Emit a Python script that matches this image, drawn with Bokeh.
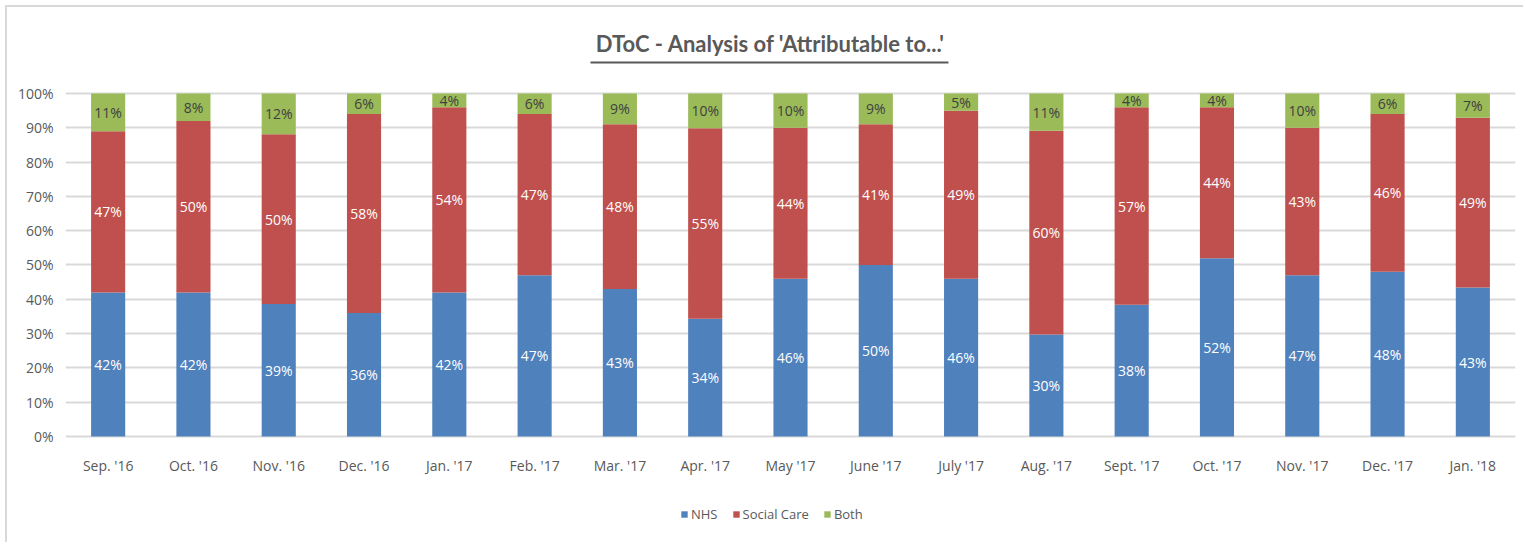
import numpy as np
from bokeh.plotting import figure
from bokeh.models import (ColumnDataSource, Range1d, FixedTicker, NumeralTickFormatter,
                          Label, Arrow, Legend, LegendItem)
from bokeh.core.properties import value
from bokeh.embed import file_html
from bokeh.resources import INLINE

months = ["Sep. '16", "Oct. '16", "Nov. '16", "Dec. '16", "Jan. '17", "Feb. '17",
          "Mar. '17", "Apr. '17", "May '17", "June '17", "July '17", "Aug. '17",
          "Sept. '17", "Oct. '17", "Nov. '17", "Dec. '17", "Jan. '18"]
nhs = [42, 42, 39, 36, 42, 47, 43, 34, 46, 50, 46, 30, 38, 52, 47, 48, 43]
social_care = [47, 50, 50, 58, 54, 47, 48, 55, 44, 41, 49, 60, 57, 44, 43, 46, 49]
both = [11, 8, 12, 6, 4, 6, 9, 10, 10, 9, 5, 11, 4, 4, 10, 6, 7]
series_names = ["NHS", "Social Care", "Both"]
colors = ["#4F81BD", "#C0504D", "#9BBB59"]
title_text = "DToC - Analysis of 'Attributable to...'"

FONT = "Open Sans"
TFONT = "Lato"
GREY = "#595959"

a = np.array(nhs, float)
b = np.array(social_care, float)
c = np.array(both, float)
tot = a + b + c
xs = np.arange(len(months)) + 0.5
src = ColumnDataSource(dict(x=xs, nhs=a / tot, sc=b / tot, both=c / tot))

# frame covers the whole chart area; only 0..100% is gridded / ticked
Y_LO, Y_HI = -0.2974, 1.242

W, H = 1518, 537
p = figure(width=W, height=H, x_range=Range1d(0, len(months)), y_range=Range1d(Y_LO, Y_HI),
           output_backend="svg", toolbar_location=None,
           min_border_left=58, min_border_right=10, min_border_top=3, min_border_bottom=6,
           styles={"margin-left": "5px", "margin-top": "5px",
                   "border-top": "2px solid #d9d9d9", "border-left": "2px solid #d9d9d9"})
p.outline_line_color = None
p.xgrid.visible = False
yt = FixedTicker(ticks=[i / 10 for i in range(11)])
p.yaxis.ticker = yt
p.ygrid.ticker = yt
p.ygrid.grid_line_color = "#d9d9d9"
p.ygrid.grid_line_width = 2
p.yaxis.formatter = NumeralTickFormatter(format="0%")
p.xaxis.ticker = FixedTicker(ticks=list(xs))
p.xaxis.major_label_overrides = {float(x): m for x, m in zip(xs, months)}
for ax in (p.xaxis[0], p.yaxis[0]):
    ax.axis_line_color = None
    ax.major_tick_line_color = None
    ax.minor_tick_line_color = None
    ax.major_tick_out = 0
    ax.major_tick_in = 0
    ax.minor_tick_out = 0
    ax.major_label_text_font = FONT
    ax.major_label_text_font_size = "14px"
    ax.major_label_text_color = GREY
p.yaxis.major_label_standoff = 12
# x axis drawn inside the frame, just under the 0% line
p.xaxis.fixed_location = -0.1122
p.xaxis.major_label_standoff = -19

rs = p.vbar_stack(["nhs", "sc", "both"], x="x", width=0.4, color=colors,
                  line_color=None, source=src)

# segment labels
n_n, s_n, b_n = a / tot, b / tot, c / tot
lab_sets = [
    (n_n / 2, nhs, "#ffffff"),
    (n_n + s_n / 2, social_care, "#ffffff"),
    (n_n + s_n + b_n / 2, both, "#404040"),
]
for yy, vals, col in lab_sets:
    ls = ColumnDataSource(dict(x=xs, y=yy, t=[f"{v}%" for v in vals]))
    p.text(x="x", y="y", text="t", source=ls, text_align="center", text_baseline="middle",
           text_color=col, text_font=value(FONT), text_font_size="14px")

# title with underline
p.add_layout(Label(x=8.265, y=1.145, text=title_text,
                   text_align="center", text_baseline="middle", text_font=TFONT,
                   text_font_size="22px", text_font_style="bold", text_color=GREY))
p.add_layout(Arrow(end=None, x_start=6.155, y_start=1.0904, x_end=10.352, y_end=1.0904,
                   line_color=GREY, line_width=2))

legend = Legend(items=[LegendItem(label=n, renderers=[r]) for n, r in zip(series_names, rs)],
                location=(615, 15), orientation="horizontal",
                glyph_width=8, glyph_height=8, label_standoff=3, spacing=14,
                padding=0, margin=0, border_line_color=None, background_fill_alpha=0,
                label_text_font=FONT, label_text_font_size="13px", label_text_color=GREY)
p.add_layout(legend, "center")

open("out.html", "w").write(file_html(p, INLINE))
